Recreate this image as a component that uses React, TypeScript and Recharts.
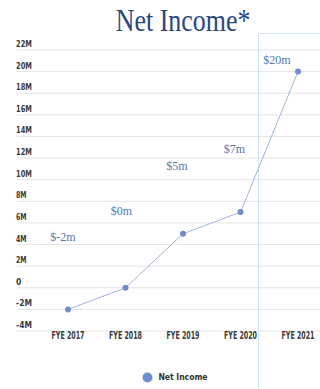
import React from "react";
import { LineChart, Line, XAxis, YAxis, CartesianGrid, Legend } from "recharts";

const years = ["FYE 2017", "FYE 2018", "FYE 2019", "FYE 2020", "FYE 2021"];
const netIncome = [-2000000, 0, 5000000, 7000000, 20000000];
const valueLabels = ["$-2m", "$0m", "$5m", "$7m", "$20m"];
const yTicks = [-4e6, -2e6, 0, 2e6, 4e6, 6e6, 8e6, 10e6, 12e6, 14e6, 16e6, 18e6, 20e6, 22e6];

const data = years.map((year, i) => ({ year, netIncome: netIncome[i], label: valueLabels[i] }));

// where each value label sits relative to its point
const labelOffsets = [
  [-5, -72],
  [-4, -77],
  [-6, -68],
  [-6, -63],
  [-21, -12],
];

const narrow = "'DejaVu Sans Condensed', 'Liberation Sans', sans-serif";
const serif = "'Liberation Serif', 'DejaVu Serif', serif";

const formatM = (v: number) => (v === 0 ? "0" : `${v / 1e6}M`);

const YTick = (props: any) => {
  const { y, payload } = props;
  const txt = formatM(payload.value);
  return (
    <text
      x={16}
      y={y - 3}
      textAnchor="start"
      fontFamily={narrow}
      fontSize={9.5}
      fontWeight={700}
      fill="#3a3a3a"
      textLength={txt.length * 5.3}
      lengthAdjust="spacingAndGlyphs"
    >
      {txt}
    </text>
  );
};

const XTick = (props: any) => {
  const { x, y, payload } = props;
  return (
    <text
      x={x}
      y={y + 8}
      textAnchor="middle"
      fontFamily={narrow}
      fontSize={10}
      fontWeight={700}
      fill="#3a3a3a"
      textLength={33}
      lengthAdjust="spacingAndGlyphs"
    >
      {payload.value}
    </text>
  );
};

const ValueLabel = (props: any) => {
  const { x, y, index } = props;
  const [dx, dy] = labelOffsets[index] || [0, -10];
  return (
    <text
      x={x + dx}
      y={y + dy + 4}
      textAnchor="middle"
      fontFamily={serif}
      fontSize={12}
      fill="#5577ad"
    >
      {valueLabels[index]}
    </text>
  );
};

const LegendContent = () => (
  <div style={{ display: "flex", alignItems: "center", justifyContent: "center", gap: 5, marginLeft: 30, height: 12 }}>
    <svg width={11} height={11}>
      <circle cx={5.5} cy={5.5} r={5} fill="#6f8fd0" />
    </svg>
    <span style={{ fontFamily: narrow, fontSize: 8.5, color: "#333", fontWeight: 700 }}>Net Income</span>
  </div>
);

export default function App() {
  return (
    <div style={{ position: "absolute", left: 0, top: 0, width: 320, height: 389, background: "#fff", overflow: "hidden" }}>
      <div
        style={{
          position: "absolute",
          left: 258,
          top: 33,
          width: 80,
          height: 380,
          borderLeft: "1.5px solid #cfe3f1",
          borderTop: "1.5px solid #cfe3f1",
        }}
      />
      <div
        style={{
          position: "absolute",
          top: 0,
          left: 0,
          width: 366,
          textAlign: "center",
          fontFamily: serif,
          fontSize: 32,
          lineHeight: "40px",
          color: "#27467e",
        }}
      >
        <span style={{ display: "inline-block", transform: "scaleX(0.81)" }}>Net Income*</span>
      </div>
      <LineChart width={320} height={389} data={data} margin={{ top: 50, right: 0, bottom: 0, left: 16 }} style={{ position: "absolute", left: 0, top: 0 }}>
        <CartesianGrid horizontal vertical={false} stroke="#e4e4e4" />
        <XAxis
          dataKey="year"
          axisLine={false}
          tickLine={false}
          tickSize={0}
          tickMargin={0}
          height={46}
          padding={{ left: 51, right: 22 }}
          interval={0}
          tick={(p: any) => <XTick {...p} />}
        />
        <YAxis
          width={1}
          domain={[-4e6, 22e6]}
          ticks={yTicks}
          axisLine={false}
          tickLine={false}
          tickSize={0}
          tickMargin={0}
          tick={(p: any) => <YTick {...p} />}
          interval={0}
        />
        <Legend
          content={<LegendContent />}
          wrapperStyle={{ position: "absolute", top: 371, left: 0, width: 320 }}
        />
        <Line
          type="linear"
          dataKey="netIncome"
          name="Net Income"
          stroke="#9fb4d9"
          strokeWidth={1}
          dot={{ r: 3, fill: "#6f8dc8", stroke: "#6f8dc8", strokeWidth: 0 }}
          label={<ValueLabel />}
          isAnimationActive={false}
        />
      </LineChart>
    </div>
  );
}
